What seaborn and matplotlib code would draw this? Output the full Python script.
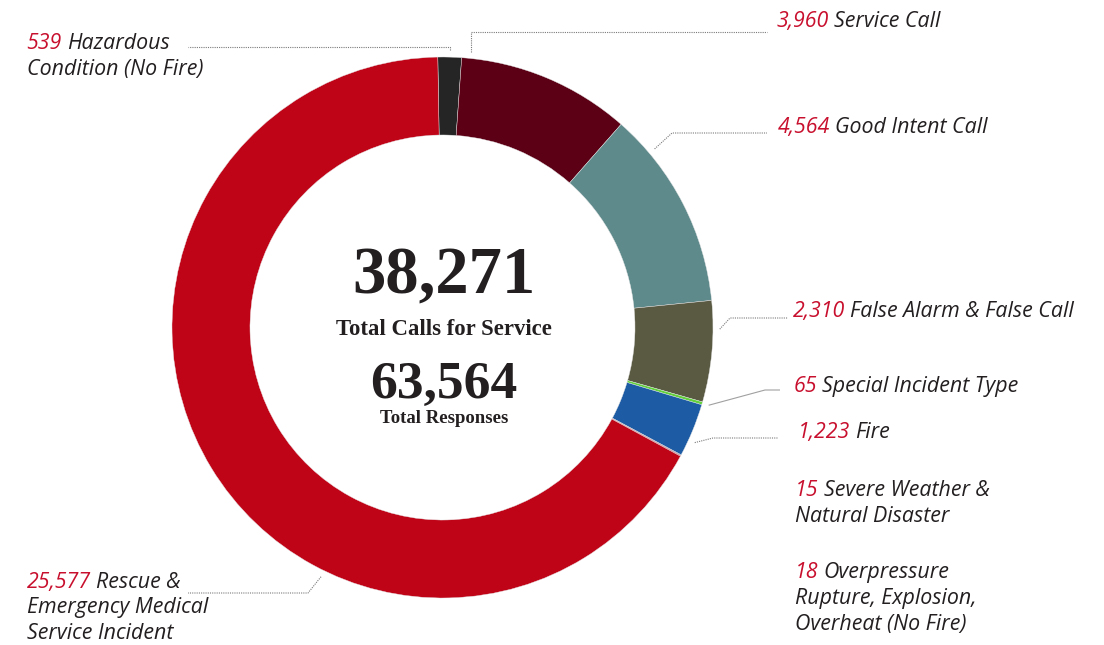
import numpy as np
import matplotlib
matplotlib.use("Agg")
import matplotlib.pyplot as plt
import seaborn as sns

# Incident categories, in clockwise order from the top of the ring
categories = [
    "Hazardous Condition (No Fire)",
    "Service Call",
    "Good Intent Call",
    "False Alarm & False Call",
    "Special Incident Type",
    "Fire",
    "Severe Weather & Natural Disaster",
    "Overpressure Rupture, Explosion, Overheat (No Fire)",
    "Rescue & Emergency Medical Service Incident",
]
calls = [539, 3960, 4564, 2310, 65, 1223, 15, 18, 25577]
total_responses = 63564

# Label text, split into printed lines (value is prefixed from `calls`)
label_lines = [
    ["Hazardous", "Condition (No Fire)"],
    ["Service Call"],
    ["Good Intent Call"],
    ["False Alarm & False Call"],
    ["Special Incident Type"],
    ["Fire"],
    ["Severe Weather &", "Natural Disaster"],
    ["Overpressure", "Rupture, Explosion,", "Overheat (No Fire)"],
    ["Rescue &", "Emergency Medical", "Service Incident"],
]

slice_colors = sns.color_palette([
    "#252525", "#5b0015", "#5f8a8c", "#5a5a43", "#62d13c",
    "#1d5ca4", "#1d5ca4", "#c00418", "#c00418",
])

sns.set_theme(style="white")
plt.rcParams["font.family"] = ["Open Sans", "DejaVu Sans"]

W, H = 1104, 645
fig = plt.figure(figsize=(W / 100, H / 100), dpi=100)
ax = fig.add_axes([0, 0, 1, 1])

# ring geometry in pixel units (y measured from the bottom)
cx, cy = 442.5, H - 327.5
R_OUT, R_IN = 270.5, 192.5

wedges, _ = ax.pie(
    calls, colors=slice_colors, startangle=91, counterclock=False,
    center=(cx, cy), radius=R_OUT,
    wedgeprops=dict(width=R_OUT - R_IN, edgecolor="#e6e6e6", linewidth=0.3),
)
ax.set_xlim(0, W)
ax.set_ylim(0, H)
ax.set_aspect("auto")
ax.axis("off")

RED = "#c8102e"
INK = "#231f20"
FS = 15.4
LINE_GAP = 25.8

# (left x, first baseline) of each label block, image-style y from the top
label_pos = [
    (26.7, 49.3), (776.7, 26.7), (778, 133.3), (793, 316.7), (794, 391.7),
    (798, 438.3), (795, 496.0), (795, 578.3), (26.7, 587.7),
]

for i, (x, yb) in enumerate(label_pos):
    y = H - yb
    num = ax.text(x, y, f"{calls[i]:,}", color=RED, fontsize=FS,
                  fontstyle="italic", ha="left", va="baseline")
    ax.annotate(label_lines[i][0], xy=(1, 0), xycoords=num,
                xytext=(3.6, 0), textcoords="offset points",
                color=INK, fontsize=FS, fontstyle="italic",
                ha="left", va="bottom")
    for k, line in enumerate(label_lines[i][1:], start=1):
        ax.text(x, y - k * LINE_GAP, line, color=INK, fontsize=FS,
                fontstyle="italic", ha="left", va="baseline")

# leader lines: (slice index, fraction along the slice, route, end x, dotted)
# route "v" = rise vertically to a given y; otherwise a diagonal elbow point
leaders = [
    (0, 0.5, ("v", 47), 188, True),
    (1, 0.05, ("v", 32), 767, True),
    (2, 0.2, ("d", (672, 133)), 767, True),
    (3, 0.28, ("d", (730, 318)), 788, True),
    (4, 0.5, ("d", (765, 390)), 780, False),
    (5, 0.69, ("d", (713, 438)), 778, True),
    (8, 0.364, ("d", (308, 593)), 188, True),
]

r_anchor = R_OUT * 1.025
for idx, t, (kind, spec), x_end, dotted in leaders:
    w = wedges[idx]
    ang = np.deg2rad(w.theta2 - t * (w.theta2 - w.theta1))
    ax0 = cx + r_anchor * np.cos(ang)
    ay0 = cy + r_anchor * np.sin(ang)
    if kind == "v":
        ex, ey = ax0, H - spec
    else:
        ex, ey = spec[0], H - spec[1]
    ls = (0, (1, 1)) if dotted else "-"
    col = "#7a7a7a" if dotted else "#a0a0a0"
    ax.plot([ax0, ex, x_end], [ay0, ey, ey], color=col, lw=0.8, ls=ls,
            solid_capstyle="butt")

# totals in the hole of the ring
serif = ["Liberation Serif", "DejaVu Serif"]
tx = 444
ax.text(tx, H - 293.5, f"{sum(calls):,}", fontsize=48, fontweight="bold",
        family=serif, color="#231f20", ha="center", va="baseline")
ax.text(tx, H - 335, "Total Calls for Service", fontsize=16.4,
        fontweight="bold", family=serif, color="#231f20",
        ha="center", va="baseline")
ax.text(tx, H - 398.3, f"{total_responses:,}", fontsize=38.5,
        fontweight="bold", family=serif, color="#231f20",
        ha="center", va="baseline")
ax.text(tx, H - 423.3, "Total Responses", fontsize=13.5, fontweight="bold",
        family=serif, color="#231f20", ha="center", va="baseline")

fig.savefig("out.png", dpi=100, facecolor="white")
